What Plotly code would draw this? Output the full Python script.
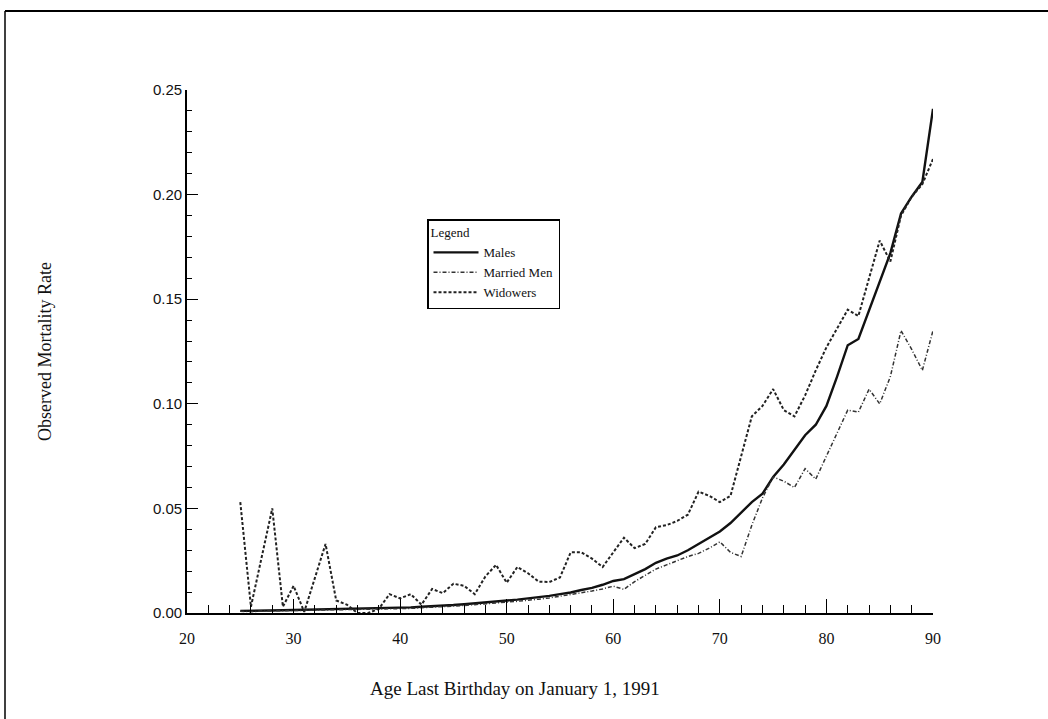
import plotly.graph_objects as go

ages = list(range(25, 91))

males = [0.0010, 0.0010, 0.0012, 0.0013, 0.0013, 0.0014, 0.0015, 0.0015, 0.0016, 0.0017,
         0.0018, 0.0019, 0.0020, 0.0021, 0.0023, 0.0025, 0.0027, 0.0030, 0.0032, 0.0035,
         0.0038, 0.0042, 0.0046, 0.0050, 0.0055, 0.0060, 0.0064, 0.0070, 0.0075, 0.0082,
         0.0090, 0.0098, 0.0110, 0.0120, 0.0135, 0.0153, 0.0162, 0.0185, 0.0210, 0.0240,
         0.0260, 0.0275, 0.0300, 0.0330, 0.0360, 0.0390, 0.0430, 0.0480, 0.0530, 0.0570,
         0.0650, 0.0710, 0.0780, 0.0850, 0.0900, 0.0990, 0.1130, 0.1280, 0.1310, 0.1450,
         0.1580, 0.1720, 0.1910, 0.1990, 0.2060, 0.2410]

married = [0.0008, 0.0006, 0.0009, 0.0010, 0.0008, 0.0011, 0.0010, 0.0012, 0.0012, 0.0013,
           0.0014, 0.0015, 0.0016, 0.0017, 0.0019, 0.0020, 0.0022, 0.0025, 0.0027, 0.0030,
           0.0033, 0.0036, 0.0040, 0.0043, 0.0048, 0.0052, 0.0056, 0.0060, 0.0066, 0.0072,
           0.0080, 0.0088, 0.0095, 0.0105, 0.0115, 0.0128, 0.0113, 0.0150, 0.0180, 0.0210,
           0.0230, 0.0250, 0.0270, 0.0285, 0.0310, 0.0340, 0.0290, 0.0270, 0.0420, 0.0550,
           0.0650, 0.0630, 0.0600, 0.0690, 0.0640, 0.0750, 0.0860, 0.0970, 0.0960, 0.1070,
           0.1000, 0.1130, 0.1350, 0.1260, 0.1160, 0.1350]

widowers = [0.0530, 0.0030, 0.0265, 0.0500, 0.0030, 0.0130, 0.0005, 0.0170, 0.0330, 0.0060,
            0.0040, 0.0000, 0.0000, 0.0020, 0.0090, 0.0070, 0.0090, 0.0040, 0.0115, 0.0095,
            0.0140, 0.0130, 0.0090, 0.0175, 0.0230, 0.0145, 0.0220, 0.0190, 0.0150, 0.0148,
            0.0170, 0.0290, 0.0290, 0.0260, 0.0220, 0.0290, 0.0360, 0.0310, 0.0330, 0.0410,
            0.0420, 0.0440, 0.0470, 0.0580, 0.0560, 0.0530, 0.0560, 0.0750, 0.0940, 0.0990,
            0.1070, 0.0970, 0.0940, 0.1040, 0.1160, 0.1270, 0.1360, 0.1450, 0.1420, 0.1600,
            0.1780, 0.1680, 0.1900, 0.1990, 0.2050, 0.2170]

x_ticks = [20, 30, 40, 50, 60, 70, 80, 90]
y_ticks = [0.00, 0.05, 0.10, 0.15, 0.20, 0.25]

W, H = 1048, 719
L, R, T, B = 187, 933, 90, 613


def px_x(p):
    return (p - L) / (R - L)


def px_y(p):
    return (B - p) / (B - T)


serif = "Liberation Serif, Times New Roman, serif"
sans = "Liberation Sans, Arial, sans-serif"

fig = go.Figure()
fig.add_trace(go.Scatter(x=ages, y=males, mode="lines", name="Males",
                         line=dict(color="#111111", width=2.4)))
fig.add_trace(go.Scatter(x=ages, y=married, mode="lines", name="Married Men",
                         line=dict(color="#333333", width=1.5, dash="4px,2px,1px,2px")))
fig.add_trace(go.Scatter(x=ages, y=widowers, mode="lines", name="Widowers",
                         line=dict(color="#222222", width=2.0, dash="3px,2px")))

fig.update_layout(
    width=W, height=H,
    margin=dict(l=L, r=W - R, t=T, b=H - B, pad=0),
    paper_bgcolor="white", plot_bgcolor="white",
    showlegend=True,
    legend=dict(
        x=px_x(427), y=px_y(219), xanchor="left", yanchor="top",
        bgcolor="white", bordercolor="black", borderwidth=1.5,
        font=dict(family=serif, size=13, color="#111111"),
        title=dict(text="Legend", font=dict(family=serif, size=13, color="#111111")),
        tracegroupgap=0, itemwidth=45,
    ),
    xaxis=dict(
        range=[20, 90], showgrid=False, zeroline=False,
        showline=True, linecolor="black", linewidth=1.8, mirror=False,
        tickvals=x_ticks, ticktext=[str(v) for v in x_ticks],
        ticks="inside", ticklen=14, tickwidth=1.2, tickcolor="black",
        minor=dict(dtick=2, tick0=20, ticks="inside", ticklen=8, tickwidth=1, tickcolor="black"),
        tickfont=dict(family=serif, size=16, color="#111111"),
        ticklabelstandoff=10,
    ),
    yaxis=dict(
        range=[0, 0.25], showgrid=False, zeroline=False,
        showline=True, linecolor="black", linewidth=1.8, mirror=False,
        tickvals=y_ticks, ticktext=["%.2f" % v for v in y_ticks],
        ticks="inside", ticklen=11, tickwidth=1.2, tickcolor="black",
        minor=dict(dtick=0.01, tick0=0, ticks="inside", ticklen=5, tickwidth=1, tickcolor="black"),
        tickfont=dict(family=sans, size=15, color="#111111"),
    ),
    annotations=[
        dict(text="Observed Mortality Rate", xref="paper", yref="paper",
             x=px_x(45), y=px_y(352), textangle=-90, showarrow=False,
             xanchor="center", yanchor="middle",
             font=dict(family=serif, size=18, color="#111111")),
        dict(text="Age Last Birthday on January 1, 1991", xref="paper", yref="paper",
             x=px_x(515), y=px_y(688), showarrow=False,
             xanchor="center", yanchor="middle",
             font=dict(family=serif, size=19, color="#111111")),
    ],
    shapes=[
        dict(type="line", xref="paper", yref="paper", x0=px_x(5), x1=px_x(W + 5),
             y0=px_y(11), y1=px_y(11), line=dict(color="black", width=2)),
        dict(type="line", xref="paper", yref="paper", x0=px_x(5), x1=px_x(5),
             y0=px_y(11), y1=px_y(H + 5), line=dict(color="black", width=1.5)),
    ],
)

fig.write_html("out.html")
